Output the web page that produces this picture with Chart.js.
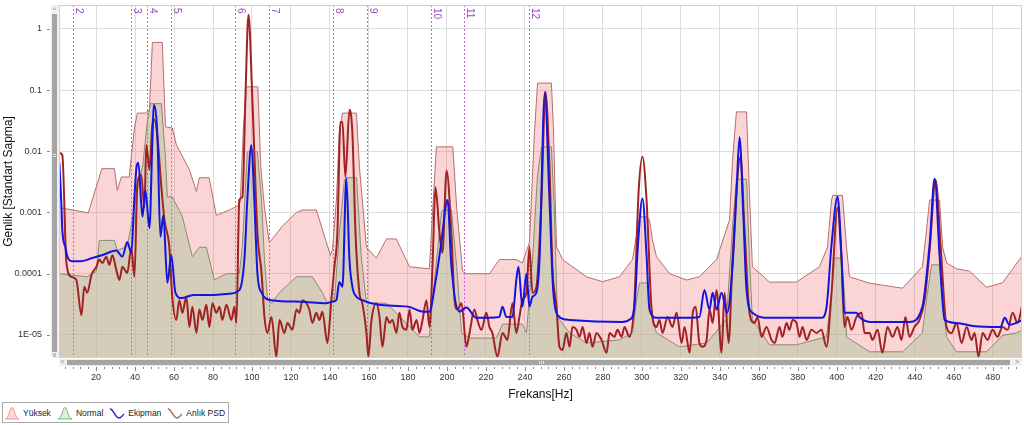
<!DOCTYPE html>
<html>
<head>
<meta charset="utf-8">
<script src="https://cdn.jsdelivr.net/npm/chart.js@4"></script>
<style>
  html, body { margin: 0; padding: 0; background: #fff; }
  #wrap { position: relative; width: 1024px; height: 425px; }
  #legend {
    position: absolute; left: 2px; top: 402px; height: 19px;
    border: 1px solid #a8a8a8; background: #fff;
    display: flex; align-items: center; padding: 0 3px 0 1px;
    font: 8.5px "Liberation Sans", Arial, sans-serif; color: #222;
  }
  .it { display: flex; align-items: center; margin-right: 6px; }
  .it:last-child { margin-right: 0; }
  .it svg { margin-right: 3px; }
</style>
</head>
<body>
<div id="wrap">
  <canvas id="c" width="1024" height="425"></canvas>
  <div id="legend">
    <div class="it"><svg width="16" height="14"><path d="M1,13 C5,13 5.5,1.5 8,1.5 C10.5,1.5 11,13 15,13 Z" fill="#ffd6d6" stroke="#e49a9a" stroke-width="1"/></svg>Yüksek</div>
    <div class="it"><svg width="16" height="14"><path d="M1,13 C5,13 5.5,1.5 8,1.5 C10.5,1.5 11,13 15,13 Z" fill="#d9f0d9" stroke="#78b878" stroke-width="1"/></svg>Normal</div>
    <div class="it"><svg width="16" height="14"><path d="M1,3 C4,2 6,12 10,12 C12.5,12 13.5,9 15,8" fill="none" stroke="#2222cc" stroke-width="1.4"/></svg>Ekipman</div>
    <div class="it"><svg width="16" height="14"><path d="M1,3 C4,2 6,12 10,12 C12.5,12 13.5,9 15,8" fill="none" stroke="#a86070" stroke-width="1.4"/></svg>Anlık PSD</div>
  </div>
</div>
<script>
// ---- axis ----
const xTicks = [20, 40, 60, 80, 100, 120, 140, 160, 180, 200, 220, 240, 260, 280, 300, 320, 340, 360, 380, 400, 420, 440, 460, 480];
const yTicks = [1e-5, 1e-4, 1e-3, 1e-2, 1e-1, 1];
const yTickLabels = ['1E-05', '0.0001', '0.001', '0.01', '0.1', '1'];

// ---- harmonic markers ----
const markerHz = [8.4, 37.9, 46.3, 58.6, 91.5, 108.6, 141.4, 158.9, 191.9, 209, 242];
const markerLabels = ['2', '3', '4', '5', '6', '7', '8', '9', '10', '11', '12'];

// ---- Yüksek (upper band) ----
const yuksekHz = [1.2, 15, 16, 23, 29.4, 30.9, 33, 37, 39.7, 41.2, 45.3, 47.4, 48.9, 54, 55.6, 59.1, 61.2, 67.9, 71.5, 73,
  78, 81.7, 88.4, 93, 94, 95.5, 97, 103, 104.5, 106.4, 108.9, 115.6, 122.8, 125.9, 133, 140.2, 141.3, 143.3, 144.8, 146.4,
  153.6, 155.1, 158.7, 163.8, 169, 174, 180.8, 191, 192.1, 193, 194.6, 203, 205, 208, 210, 221.8, 226.9, 235.6, 238.7, 242.3,
  244.9, 246.5, 253.6, 254.6, 256.2, 259.3, 271.6, 279.8, 288.5, 295.2, 298, 299, 302.5, 303.9, 305.4, 307.5, 314.2, 323, 329.5, 338.3,
  345, 346.5, 348.5, 353.7, 355.2, 356.7, 365.5, 379.3, 391.1, 395.2, 397.3, 398, 402.9, 405, 406.5, 416.8, 433.7, 443.9, 445.5, 447.6,
  452.7, 454.3, 456.3, 461.4, 468.1, 476.8, 485, 493.7, 495.3];
const yuksekVal = [0.0012, 0.001, 0.00098, 0.0052, 0.0052, 0.0023, 0.0038, 0.0038, 0.024, 0.042, 0.042, 0.047, 0.6, 0.6, 0.025, 0.024, 0.0128, 0.005, 0.0022, 0.0037,
  0.0037, 0.0009, 0.0011, 0.0013, 0.0015, 0.02, 0.113, 0.113, 0.0056, 0.0012, 0.00032, 0.0006, 0.001, 0.0011, 0.0011, 0.0002, 0.00025, 0.0016, 0.02, 0.042,
  0.042, 0.0056, 0.00027, 0.00018, 0.00037, 0.00037, 0.00013, 0.00012, 0.0005, 0.0016, 0.0118, 0.0118, 0.0012, 0.00011, 0.0001, 0.0001, 0.00017, 0.00017, 0.00015, 0.00032,
  0.02, 0.13, 0.13, 0.025, 0.00028, 0.00017, 0.000089, 0.000074, 0.000089, 0.00017, 0.0006, 0.00085, 0.00085, 0.00076, 0.00036, 0.00019, 0.0001, 0.000079, 0.000089, 0.00017,
  0.00076, 0.007, 0.044, 0.044, 0.002, 0.00013, 0.000073, 0.000073, 0.00013, 0.00027, 0.0016, 0.0019, 0.0019, 0.00027, 0.000089, 0.00007, 0.000058, 0.00013, 0.00036, 0.0016,
  0.0016, 0.00027, 0.00015, 0.00012, 0.00011, 0.00006, 0.000071, 0.00017, 0.0002];

// ---- Normal (lower band) ----
const normalHz = [1.2, 15.5, 20.2, 21.7, 29.4, 30.9, 36, 38, 40.7, 44, 46.3, 47.9, 53.5, 55.6, 56.6, 59.1, 64.3, 69.4, 73, 76.6,
  80.7, 86.9, 93.5, 95, 97.6, 102.8, 104.9, 106.4, 108, 110, 114.1, 122.8, 131, 136.1, 138.7, 142.3, 144.8, 147.4, 148.4, 153.6,
  156, 158.7, 169, 177.2, 185.9, 191, 192.6, 195.2, 197.2, 197.7, 202.3, 205, 207.5, 211.6, 225.4, 228.5, 238.7, 240.8, 243.9, 246.4,
  248.5, 253.6, 255.1, 256.7, 262.9, 271.6, 288.5, 295.2, 297.3, 298.8, 302.9, 305.4, 307.5, 319.4, 333.2, 343.4, 346.5, 348.5, 353.7, 355.2,
  356.7, 365.5, 379.3, 394.7, 397.3, 398.8, 402.4, 403.9, 405, 416.8, 433.7, 443.9, 446, 448.6, 452.7, 454.3, 456.3, 461.4, 476.8, 485,
  492.2, 495.3];
const normalVal = [0.0001, 0.000089, 0.00011, 0.00035, 0.00035, 0.00024, 0.00028, 0.0006, 0.002, 0.006, 0.03, 0.06, 0.06, 0.008, 0.0018, 0.0018, 0.00085, 0.00019, 0.00027, 0.00027,
  0.000079, 0.0001, 0.0001, 0.00027, 0.0098, 0.0098, 0.0016, 0.00017, 0.000037, 0.000033, 0.000049, 0.000089, 0.000089, 0.000049, 0.000033, 0.000037, 0.00046, 0.0034, 0.0037, 0.0037,
  0.0002, 0.000033, 0.000033, 0.000018, 0.0000093, 0.0000093, 0.000037, 0.00024, 0.001, 0.0011, 0.0011, 0.00013, 0.0000108, 0.0000089, 0.0000089, 0.000015, 0.000015, 0.0000108, 0.00017, 0.0038,
  0.0118, 0.0118, 0.0011, 0.0000197, 0.0000108, 0.0000074, 0.0000083, 0.0000108, 0.000037, 0.00007, 0.000071, 0.000018, 0.0000108, 0.0000064, 0.0000074, 0.000018, 0.00058, 0.0035, 0.0035, 0.00017,
  0.000018, 0.0000069, 0.0000069, 0.0000093, 0.000049, 0.00018, 0.00018, 0.000049, 0.0000093, 0.0000053, 0.0000053, 0.0000108, 0.000037, 0.00014, 0.00014, 0.000037, 0.0000093, 0.0000053, 0.0000053, 0.0000098,
  0.0000108, 0.000012];

// ---- Ekipman ----
const ekipmanHz = [1.2, 2.2, 2.7, 4.3, 5.3, 7.9, 12, 18, 23, 30.4, 33.5, 36, 38.1, 39.7, 40.8, 41.7, 43.8, 45.3, 47.4, 48.9,
  49.6, 51.5, 53, 54.5, 56.6, 58.6, 60.7, 63.8, 70, 80, 88, 93.5, 96.1, 97.6, 99.7, 101.2, 102.8, 104.9, 110, 125,
  138, 141.3, 143.3, 144.8, 146.4, 148.4, 150, 151.5, 153.6, 156.6, 165, 180, 188, 191, 194, 197, 200.3, 202.3, 206.4, 210,
  215.1, 226.9, 228.5, 230.5, 233.6, 235.6, 236.7, 238.7, 240.8, 242.3, 243.9, 245.9, 247.5, 250.2, 252.5, 254.6, 257.7, 262.9, 290, 294,
  296.2, 298, 300.3, 302.4, 303.9, 307.5, 320, 329.5, 332.1, 334.7, 336.3, 338.3, 340.9, 343.7, 346.5, 348.5, 350.1, 352, 353.7, 356.7,
  365.5, 380, 392.1, 394.7, 397.3, 400.4, 402.4, 403.9, 410, 412, 416.8, 437.3, 443.9, 447.6, 450.2, 452.7, 455.3, 461.4, 470, 484,
  486.1, 488.6, 495.3];
const ekipmanVal = [0.0065, 0.0014, 0.00052, 0.00027, 0.00019, 0.00016, 0.00016, 0.00018, 0.0002, 0.00024, 0.00019, 0.00033, 0.00022, 0.0018, 0.0056, 0.0065, 0.00085, 0.0023, 0.00056, 0.015,
  0.057, 0.017, 0.0004, 0.0009, 0.000071, 0.0002, 0.000049, 0.00004, 0.000045, 0.000045, 0.000047, 0.000054, 0.00017, 0.0016, 0.0127, 0.0016, 0.0001, 0.000049, 0.000037, 0.000035,
  0.000033, 0.000035, 0.000037, 0.000073, 0.000061, 0.0036, 0.00017, 0.000061, 0.000042, 0.000037, 0.000031, 0.000029, 0.000024, 0.000024, 0.00007, 0.0003, 0.0016, 0.00013, 0.000024, 0.000028,
  0.000019, 0.0000197, 0.000029, 0.0000197, 0.0000197, 0.000079, 0.00013, 0.000029, 0.0001, 0.000029, 0.000042, 0.000049, 0.00017, 0.09, 0.002, 0.000049, 0.0000197, 0.0000176, 0.0000163, 0.000018,
  0.000029, 0.0003, 0.0017, 0.0002, 0.000026, 0.000019, 0.000019, 0.0000197, 0.000054, 0.000026, 0.000049, 0.000026, 0.000049, 0.000023, 0.00013, 0.002, 0.017, 0.001, 0.000054, 0.000023,
  0.000019, 0.000019, 0.000019, 0.000028, 0.0003, 0.0018, 0.0002, 0.000023, 0.000023, 0.000019, 0.0000163, 0.0000163, 0.000029, 0.0003, 0.0036, 0.0002, 0.0000176, 0.0000157, 0.000014, 0.0000135,
  0.000019, 0.0000146, 0.0000176];

// ---- Anlık PSD ----
const anlikHz = [1.2, 2.7, 4.8, 7.3, 9.9, 12.5, 14, 15.5, 17.7, 20.2, 21.7, 23.2, 25.3, 26.8, 28.4, 30.4, 32, 33.5, 36, 38.1,
  39.7, 41.2, 43.2, 44.8, 45.8, 47.4, 48.9, 49.9, 51.5, 53.5, 55.1, 57.6, 59.1, 61.2, 62.7, 64.3, 66.3, 67.9, 69.4, 71.5,
  73, 74.6, 76.6, 78.1, 79.7, 81.7, 83.3, 84.8, 86.9, 89.4, 91, 92, 93.5, 95.1, 96.6, 98.2, 100.2, 102.8, 104.9, 106.4,
  107.9, 110, 112.5, 114.1, 116.6, 118.2, 120.7, 122.8, 124.3, 125.9, 127.9, 129.4, 131, 133, 134.6, 136.1, 138.7, 140.7, 142.3, 143.8,
  145.4, 146.4, 147.9, 150, 151.5, 153.1, 155.1, 156.6, 158.7, 159.7, 161.3, 163.8, 165.4, 166.9, 169, 170.5, 172, 174.1, 175.6, 177.2,
  179.2, 180.8, 182.3, 184.4, 185.9, 187.5, 189.5, 191, 192.6, 194.1, 196.2, 197.7, 199.8, 202.3, 203.9, 205.4, 207.5, 210, 211.6, 214.1,
  215.6, 217.7, 220.2, 221.8, 223.3, 225.9, 228.5, 231, 233.6, 235.6, 237.2, 238.7, 240.8, 242.3, 243.9, 245.9, 248.5, 250.5, 252.6, 254.1,
  256.2, 257.7, 259.3, 261.3, 262.9, 264.4, 266.5, 268, 269.6, 271.6, 273.1, 274.7, 276.7, 279.3, 281.9, 283.4, 285.9, 287.5, 289.6, 291.1,
  293.6, 296.2, 298.3, 300.3, 302.4, 304.9, 307.5, 309, 310.6, 313.2, 315.7, 317.8, 320.4, 321.9, 324.5, 326.1, 327.6, 329.5, 331.1, 333.2,
  334.7, 336.3, 338.3, 340.9, 342.4, 344.5, 346.5, 350.6, 352.6, 355.2, 357.8, 359.3, 361.4, 363.9, 366.5, 368.1, 370.6, 372.1, 374.2, 375.7,
  377.3, 379.3, 380.9, 382.4, 384.5, 387, 389.6, 392.1, 394.7, 397.3, 400.4, 402.4, 403.9, 405.5, 407.5, 410.1, 412.7, 414.2, 416.8, 418.3,
  420.9, 423.4, 426, 428.6, 431.1, 433.2, 435.2, 437.3, 439.8, 442.4, 445, 447.6, 450.7, 453.3, 456.3, 458.9, 461.4, 464, 466.6, 469.1,
  470.7, 472.7, 474.8, 477.3, 479.9, 482.4, 485, 487.6, 490.2, 492.7, 495.3];
const anlikVal = [0.0094, 0.0087, 0.00015, 0.000089, 0.000079, 0.000021, 0.000061, 0.000049, 0.000096, 0.00013, 0.00017, 0.00015, 0.00019, 0.00014, 0.0002, 0.000115, 0.000079, 0.00013, 0.000103, 0.00026,
  0.000089, 0.003, 0.0041, 0.0012, 0.0127, 0.005, 0.027, 0.0326, 0.0172, 0.0026, 0.00076, 0.00027, 0.000042, 0.0000176, 0.000037, 0.000023, 0.000042, 0.0000135, 0.000029, 0.0000108,
  0.000026, 0.0000176, 0.000031, 0.0000135, 0.000033, 0.000023, 0.000029, 0.0000176, 0.000031, 0.0000176, 0.000029, 0.0000157, 0.0016, 0.0018, 0.069, 1.69, 0.069, 0.00046, 0.000103, 0.0000197,
  0.0000108, 0.0000197, 0.0000044, 0.0000176, 0.0000108, 0.0000157, 0.0000121, 0.000026, 0.000023, 0.000037, 0.000033, 0.000026, 0.0000157, 0.000023, 0.0000176, 0.000024, 0.0000074, 0.000037, 0.00013, 0.00046,
  0.0302, 0.0302, 0.0038, 0.0475, 0.02, 0.00046, 0.000049, 0.000033, 0.0000108, 0.0000044, 0.0000176, 0.000033, 0.0000197, 0.0000064, 0.0000197, 0.0000157, 0.0000176, 0.0000108, 0.000023, 0.0000135,
  0.0000121, 0.000026, 0.0000121, 0.0000176, 0.0000108, 0.0000176, 0.000037, 0.0000135, 0.00013, 0.0026, 0.00046, 0.00022, 0.0048, 0.00046, 0.000037, 0.000026, 0.000033, 0.0000064, 0.0000108, 0.000026,
  0.0000176, 0.0000121, 0.000023, 0.0000135, 0.0000108, 0.0000044, 0.0000108, 0.0000083, 0.000033, 0.0000108, 0.0000197, 0.000037, 0.000049, 0.00027, 0.000049, 0.000061, 0.0016, 0.0935, 0.0056, 0.00013,
  0.000029, 0.0000064, 0.0000057, 0.0000108, 0.0000064, 0.0000135, 0.0000121, 0.0000093, 0.0000135, 0.0000074, 0.0000108, 0.0000064, 0.0000108, 0.0000083, 0.0000051, 0.0000108, 0.0000093, 0.0000121, 0.0000093, 0.0000135,
  0.0000093, 0.000037, 0.0021, 0.0081, 0.0016, 0.000029, 0.0000135, 0.0000176, 0.0000108, 0.0000197, 0.0000135, 0.000023, 0.0000074, 0.0000135, 0.0000051, 0.000023, 0.000029, 0.0000074, 0.0000064, 0.0000083,
  0.000026, 0.0000157, 0.000054, 0.0000051, 0.000049, 0.0000074, 0.00017, 0.0081, 0.00058, 0.000023, 0.0000157, 0.0000197, 0.0000093, 0.0000135, 0.0000083, 0.0000074, 0.0000135, 0.0000093, 0.0000157, 0.0000121,
  0.0000176, 0.0000157, 0.0000093, 0.0000135, 0.0000083, 0.0000121, 0.0000108, 0.0000121, 0.0000064, 0.000049, 0.0012, 0.00017, 0.0000135, 0.0000197, 0.0000121, 0.0000197, 0.000023, 0.0000108, 0.0000108, 0.0000083,
  0.0000121, 0.0000051, 0.0000135, 0.0000093, 0.0000135, 0.0000083, 0.0000197, 0.0000093, 0.0000135, 0.0000176, 0.000037, 0.00024, 0.0034, 0.00027, 0.0000135, 0.0000108, 0.0000157, 0.0000074, 0.0000135, 0.0000083,
  0.0000108, 0.0000044, 0.0000108, 0.0000083, 0.0000121, 0.0000093, 0.0000135, 0.0000121, 0.000023, 0.0000157, 0.000033];

const toPts = (hz, val) => hz.map((h, i) => ({ x: h, y: val[i] }));

const FONT = '"Liberation Sans", Arial, sans-serif';

// scrollbars, axis tick marks and harmonic markers
const decor = {
  id: 'decor',
  afterDatasetDraw(chart, args) {
    if (args.index !== 1) return; // after the two filled bands, before the lines
    const { ctx, chartArea: ca, scales: { x } } = chart;
    ctx.save();
    ctx.globalAlpha = 1;
    ctx.lineWidth = 1;
    markerHz.forEach((hz, i) => {
      const px = Math.round(x.getPixelForValue(hz)) + 0.5;
      ctx.strokeStyle = '#cf5ee0';
      ctx.setLineDash([2, 2]);
      ctx.beginPath();
      ctx.moveTo(px, ca.top);
      ctx.lineTo(px, ca.bottom);
      ctx.stroke();
      ctx.save();
      ctx.translate(px + 2, ca.top + 3);
      ctx.rotate(Math.PI / 2);
      ctx.fillStyle = '#9a44c4';
      ctx.font = '10px ' + FONT;
      ctx.textBaseline = 'alphabetic';
      ctx.fillText(markerLabels[i], 0, 0);
      ctx.restore();
    });
    ctx.restore();
  },
  afterDraw(chart) {
    const { ctx, chartArea: ca, scales: { x, y } } = chart;
    ctx.save();
    // plot frame
    ctx.strokeStyle = '#cfcfcf';
    ctx.lineWidth = 1;
    ctx.strokeRect(ca.left + 0.5, ca.top + 0.5, ca.right - ca.left - 1, ca.bottom - ca.top - 1);

    // vertical scrollbar
    ctx.fillStyle = '#f0f0f0';
    ctx.fillRect(ca.left - 8, ca.top, 8, ca.bottom - ca.top);
    ctx.fillStyle = '#a4a4a4';
    ctx.fillRect(ca.left - 7, ca.top + 9, 5, ca.bottom - ca.top - 15);
    ctx.fillStyle = '#777';
    ctx.font = '7px ' + FONT;
    ctx.textAlign = 'center';
    ctx.textBaseline = 'middle';
    ctx.fillText('^', ca.left - 4.5, ca.top + 5);
    ctx.fillText('v', ca.left - 4.5, ca.bottom - 3);
    ctx.fillStyle = '#ddd';
    ctx.fillRect(ca.left - 6, 154, 3, 1);
    ctx.fillRect(ca.left - 6, 156, 3, 1);

    // horizontal scrollbar
    ctx.fillStyle = '#f0f0f0';
    ctx.fillRect(ca.left, ca.bottom + 1, ca.right - ca.left, 7);
    ctx.fillStyle = '#a4a4a4';
    ctx.fillRect(ca.left + 8, ca.bottom + 2, ca.right - ca.left - 20, 5);
    ctx.fillStyle = '#777';
    ctx.fillText('<', ca.left + 3.5, ca.bottom + 4.5);
    ctx.fillText('>', ca.right - 5, ca.bottom + 4.5);
    ctx.fillStyle = '#e4e4e4';
    const mid = Math.round((ca.left + ca.right) / 2);
    [-2, 0, 2].forEach(d => ctx.fillRect(mid + d, ca.bottom + 3, 1, 3));

    // x tick marks under the scrollbar
    ctx.strokeStyle = '#8a8a8a';
    ctx.beginPath();
    for (let hz = 4; hz <= 492; hz += 4) {
      const px = Math.round(x.getPixelForValue(hz)) + 0.5;
      const len = hz % 20 === 0 ? 4 : 2;
      ctx.moveTo(px, ca.bottom + 9);
      ctx.lineTo(px, ca.bottom + 9 + len);
    }
    // y tick marks
    yTicks.forEach(v => {
      const py = Math.round(y.getPixelForValue(v)) + 0.5;
      ctx.moveTo(ca.left - 12, py);
      ctx.lineTo(ca.left - 9, py);
    });
    ctx.stroke();
    ctx.restore();
  }
};

new Chart(document.getElementById('c'), {
  type: 'line',
  data: {
    datasets: [
      {
        label: 'Yüksek',
        data: toPts(yuksekHz, yuksekVal),
        borderColor: '#b46e6e',
        borderWidth: 1,
        backgroundColor: 'rgba(240, 100, 100, 0.27)',
        fill: 'start',
        tension: 0,
        order: 4
      },
      {
        label: 'Normal',
        data: toPts(normalHz, normalVal),
        borderColor: '#8a8a72',
        borderWidth: 1,
        backgroundColor: 'rgba(177, 195, 159, 0.5)',
        fill: 'start',
        tension: 0,
        order: 3
      },
      {
        label: 'Ekipman',
        data: toPts(ekipmanHz, ekipmanVal),
        borderColor: '#1414e0',
        borderWidth: 2,
        fill: false,
        cubicInterpolationMode: 'monotone',
        order: 1
      },
      {
        label: 'Anlık PSD',
        data: toPts(anlikHz, anlikVal),
        borderColor: '#a02222',
        borderWidth: 2,
        fill: false,
        cubicInterpolationMode: 'monotone',
        order: 2
      }
    ]
  },
  options: {
    responsive: false,
    animation: false,
    devicePixelRatio: 1,
    layout: { padding: { top: 5, right: 2, left: 0, bottom: 0 } },
    elements: { point: { radius: 0 } },
    plugins: { legend: { display: false }, tooltip: { enabled: false } },
    scales: {
      x: {
        type: 'linear',
        min: 1,
        max: 495,
        afterBuildTicks: s => { s.ticks = xTicks.map(v => ({ value: v })); },
        afterFit: s => { s.height = 67; s.paddingLeft = 0; s.paddingRight = 0; },
        grid: { color: '#dcdcdc', drawTicks: false },
        border: { display: false },
        ticks: { padding: 14, color: '#333', autoSkip: false, maxRotation: 0, font: { family: FONT, size: 9 } },
        title: {
          display: true,
          text: 'Frekans[Hz]',
          color: '#111',
          font: { family: FONT, size: 12 },
          padding: { top: 0, bottom: 23 }
        }
      },
      y: {
        type: 'logarithmic',
        min: 4.2e-6,
        max: 2.45,
        afterBuildTicks: s => { s.ticks = yTicks.map(v => ({ value: v })); },
        afterFit: s => { s.width = 59; s.paddingTop = 0; s.paddingBottom = 0; },
        grid: { color: '#dcdcdc', drawTicks: false },
        border: { display: false },
        ticks: {
          padding: 17,
          color: '#333',
          font: { family: FONT, size: 9 },
          callback: (v, i) => yTickLabels[i]
        },
        title: {
          display: true,
          text: 'Genlik [Standart Sapma]',
          color: '#111',
          font: { family: FONT, size: 12 },
          padding: { top: 1, bottom: 0 }
        }
      }
    }
  },
  plugins: [decor]
});
</script>
</body>
</html>
